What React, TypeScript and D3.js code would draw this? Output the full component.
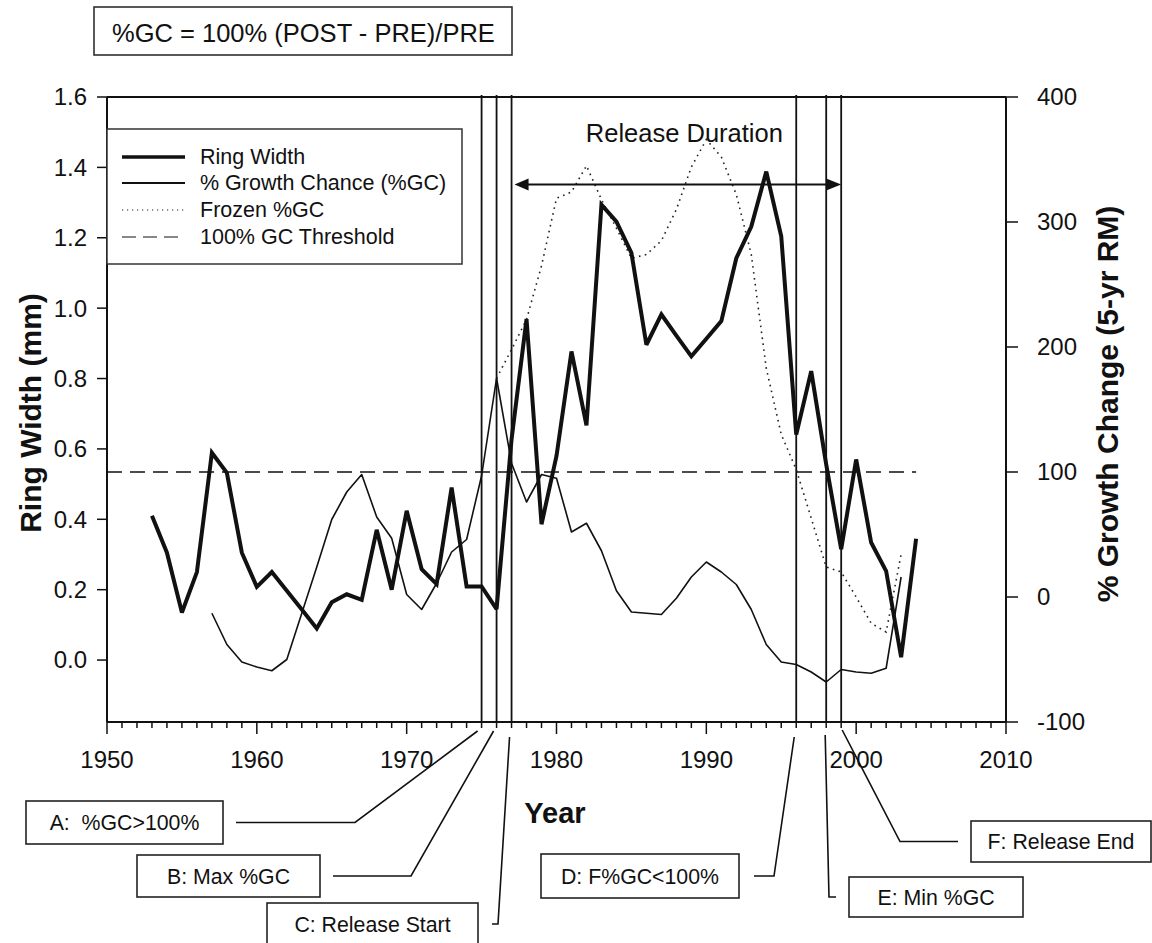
import React from 'react';
import * as d3 from 'd3';

// ---------- data ----------
const ringStartYear = 1953;
const ringWidth = [0.41, 0.305, 0.135, 0.25, 0.589, 0.532, 0.305, 0.208, 0.25, 0.197,
  0.144, 0.09, 0.164, 0.187, 0.171, 0.37, 0.2, 0.424, 0.258, 0.216,
  0.49, 0.209, 0.209, 0.145, 0.627, 0.969, 0.386, 0.58, 0.877, 0.667,
  1.294, 1.246, 1.157, 0.896, 0.982, 0.922, 0.863, 0.913, 0.963, 1.142,
  1.232, 1.388, 1.204, 0.641, 0.821, 0.556, 0.315, 0.57, 0.334, 0.253,
  0.008, 0.345];

const gcStartYear = 1957;
const growthChange = [-13, -38, -52, -56, -59, -50, -13, 24, 62, 84,
  98, 64, 47, 2, -10, 11, 36, 46, 97, 175,
  107, 76, 98, 95, 52, 59, 37, 5, -12, -13,
  -14, -1, 16, 28, 20, 10, -10, -38, -52, -54,
  -60, -68, -58, -60, -61, -57, 16];

const frozenStartYear = 1976;
const frozenGC = [175, 198, 222, 265, 319, 324, 345, 318, 295, 271,
  274, 285, 310, 344, 366, 352, 322, 274, 183, 130,
  102, 63, 24, 20, 0, -21, -28, 34];

const thresholdValue = 100;
const thresholdYears = [1950, 2004];

const xTicks = [1950, 1960, 1970, 1980, 1990, 2000, 2010];
const leftTicks = [0.0, 0.2, 0.4, 0.6, 0.8, 1.0, 1.2, 1.4, 1.6];
const rightTicks = [-100, 0, 100, 200, 300, 400];

const markerYears = [1975, 1976, 1977, 1996, 1998, 1999];
const markerLabels = ['A:  %GC>100%', 'B: Max %GC', 'C: Release Start', 'D: F%GC<100%', 'E: Min %GC', 'F: Release End'];

const releaseStart = 1977;
const releaseEnd = 1999;
const releaseArrowValue = 330;

const legendLabels = ['Ring Width', '% Growth Chance (%GC)', 'Frozen %GC', '100% GC Threshold'];

// ---------- layout ----------
const W = 1152, H = 943;
const PL = 107, PR = 1006, PT = 97, PB = 722;
const FONT = '"Liberation Sans", Arial, Helvetica, sans-serif';

// annotation boxes: [x, y, w, h], leader elbow x, leader end x
const boxLayout = [
  { x: 26, y: 801, w: 197, h: 43, elbow: 355, end: 236, startDx: -4 },
  { x: 137, y: 855, w: 183, h: 42, elbow: 411, end: 333, startDx: -3 },
  { x: 267, y: 903, w: 211, h: 42, elbow: 498, end: 492, startDx: -2 },
  { x: 541, y: 854, w: 198, h: 44, elbow: 774, end: 754, startDx: -2 },
  { x: 849, y: 877, w: 174, h: 40, elbow: 829, end: 836, startDx: -1 },
  { x: 971, y: 821, w: 180, h: 41, elbow: 900, end: 958, startDx: 1 },
];
const leaderStartY = [731, 731, 737, 737, 735, 730];

export default function App() {
  const x = d3.scaleLinear().domain([1950, 2010]).range([PL, PR]);
  const yL = d3.scaleLinear().domain([-0.176, 1.6]).range([PB, PT]);
  const yR = d3.scaleLinear().domain([-100, 400]).range([PB, PT]);

  const ringPts = ringWidth.map((v, i) => [ringStartYear + i, v] as [number, number]);
  const gcPts = growthChange.map((v, i) => [gcStartYear + i, v] as [number, number]);
  const frPts = frozenGC.map((v, i) => [frozenStartYear + i, v] as [number, number]);

  const lineL = d3.line<[number, number]>().x(d => x(d[0])).y(d => yL(d[1]));
  const lineR = d3.line<[number, number]>().x(d => x(d[0])).y(d => yR(d[1]));

  const minorYears = d3.range(1950, 2011, 1);

  const arrowY = yR(releaseArrowValue);
  const ax1 = x(releaseStart) + 3;
  const ax2 = x(releaseEnd);

  const legendRows = [157, 183, 210, 237];

  return (
    <svg width={W} height={H} style={{ position: 'absolute', left: 0, top: 0, background: '#fff' }}
      fontFamily={FONT}>
      <rect x={0} y={0} width={W} height={H} fill="#fff" />

      {/* title box */}
      <rect x={94} y={7} width={418} height={48} fill="#fff" stroke="#222" strokeWidth={1.5} />
      <text x={112} y={42} fontSize={25.5} fill="#111">%GC = 100% (POST - PRE)/PRE</text>

      {/* frame */}
      <line x1={PL} x2={PR} y1={PT} y2={PT} stroke="#111" strokeWidth={2} />
      <line x1={PL} x2={PL} y1={PT} y2={PB} stroke="#111" strokeWidth={2} />
      <line x1={PR} x2={PR} y1={PT} y2={PB} stroke="#111" strokeWidth={2} />
      <line x1={PL} x2={PR} y1={PB} y2={PB} stroke="#111" strokeWidth={2} />

      {/* x ticks */}
      {minorYears.map(yr => (
        <line key={'mt' + yr} x1={x(yr)} x2={x(yr)} y1={PB} y2={PB + (yr % 10 === 0 ? 12 : 6)} stroke="#111" strokeWidth={1.5} />
      ))}
      {xTicks.map(t => (
        <text key={'xt' + t} x={x(t)} y={768} fontSize={24} textAnchor="middle" fill="#111">{t}</text>
      ))}
      {/* left ticks */}
      {leftTicks.map(t => (
        <g key={'lt' + t}>
          <line x1={PL - 10} x2={PL} y1={yL(t)} y2={yL(t)} stroke="#111" strokeWidth={1.5} />
          <text x={87} y={yL(t)} dy="0.35em" fontSize={24} textAnchor="end" fill="#111">{t.toFixed(1)}</text>
        </g>
      ))}
      {/* right ticks */}
      {rightTicks.map(t => (
        <g key={'rt' + t}>
          <line x1={PR} x2={PR + 12} y1={yR(t)} y2={yR(t)} stroke="#111" strokeWidth={1.5} />
          <text x={1037} y={yR(t)} dy="0.35em" fontSize={24} textAnchor="start" fill="#111">{t}</text>
        </g>
      ))}

      {/* axis titles */}
      <text transform={`translate(30,413) rotate(-90)`} fontSize={30} fontWeight="bold" textAnchor="middle" dy="0.35em" fill="#111">Ring Width (mm)</text>
      <text transform={`translate(1107,404) rotate(-90)`} fontSize={30} fontWeight="bold" textAnchor="middle" dy="0.35em" fill="#111">% Growth Change (5-yr RM)</text>
      <text x={555} y={823} fontSize={29} fontWeight="bold" textAnchor="middle" fill="#111">Year</text>

      {/* threshold */}
      <line x1={x(thresholdYears[0])} x2={x(thresholdYears[1])} y1={yR(thresholdValue)} y2={yR(thresholdValue)}
        stroke="#111" strokeWidth={1.5} strokeDasharray="15,8" />

      {/* marker lines */}
      {markerYears.map((yr, i) => (
        <line key={'mk' + i} x1={x(yr)} x2={x(yr)} y1={PT - 2} y2={PB} stroke="#111" strokeWidth={1.8} />
      ))}

      {/* series */}
      <path d={lineR(frPts) || ''} fill="none" stroke="#222" strokeWidth={1.6} strokeDasharray="1.6,4.4" />
      <path d={lineR(gcPts) || ''} fill="none" stroke="#111" strokeWidth={1.6} strokeLinejoin="round" />
      <path d={lineL(ringPts) || ''} fill="none" stroke="#111" strokeWidth={4} strokeLinejoin="miter" strokeMiterlimit={3} />

      {/* release duration arrow */}
      <line x1={ax1 + 12} x2={ax2 - 13} y1={arrowY} y2={arrowY} stroke="#111" strokeWidth={2} />
      <path d={`M${ax1},${arrowY} L${ax1 + 14},${arrowY - 6} L${ax1 + 14},${arrowY + 6} Z`} fill="#111" />
      <path d={`M${ax2},${arrowY} L${ax2 - 15},${arrowY - 6} L${ax2 - 15},${arrowY + 6} Z`} fill="#111" />
      <text x={(x(releaseStart) + x(releaseEnd)) / 2 + 8} y={142} fontSize={25.5} textAnchor="middle" fill="#111">Release Duration</text>

      {/* legend */}
      <rect x={PL} y={129} width={355} height={135} fill="#fff" stroke="#333" strokeWidth={1.5} />
      <line x1={122} x2={185} y1={legendRows[0]} y2={legendRows[0]} stroke="#111" strokeWidth={3.5} />
      <line x1={122} x2={185} y1={legendRows[1]} y2={legendRows[1]} stroke="#111" strokeWidth={1.8} />
      <line x1={122} x2={185} y1={legendRows[2]} y2={legendRows[2]} stroke="#222" strokeWidth={1.2} strokeDasharray="1.2,3.8" />
      <line x1={122} x2={180} y1={legendRows[3]} y2={legendRows[3]} stroke="#111" strokeWidth={1.2} strokeDasharray="14,7" />
      {legendLabels.map((l, i) => (
        <text key={'lg' + i} x={200} y={legendRows[i] + 7} fontSize={21.5} fill="#111">{l}</text>
      ))}

      {/* annotation boxes and leaders */}
      {markerLabels.map((lab, i) => {
        const b = boxLayout[i];
        const cy = b.y + b.h / 2;
        const sx = x(markerYears[i]) + b.startDx;
        return (
          <g key={'ann' + i}>
            <polyline points={`${sx},${leaderStartY[i]} ${b.elbow},${cy} ${b.end},${cy}`} fill="none" stroke="#111" strokeWidth={1.6} />
            <rect x={b.x} y={b.y} width={b.w} height={b.h} fill="#fff" stroke="#222" strokeWidth={1.6} />
            <text x={b.x + b.w / 2} y={cy} dy="0.36em" fontSize={21.3} textAnchor="middle" fill="#111" style={{ whiteSpace: 'pre' }}>{lab}</text>
          </g>
        );
      })}
    </svg>
  );
}
